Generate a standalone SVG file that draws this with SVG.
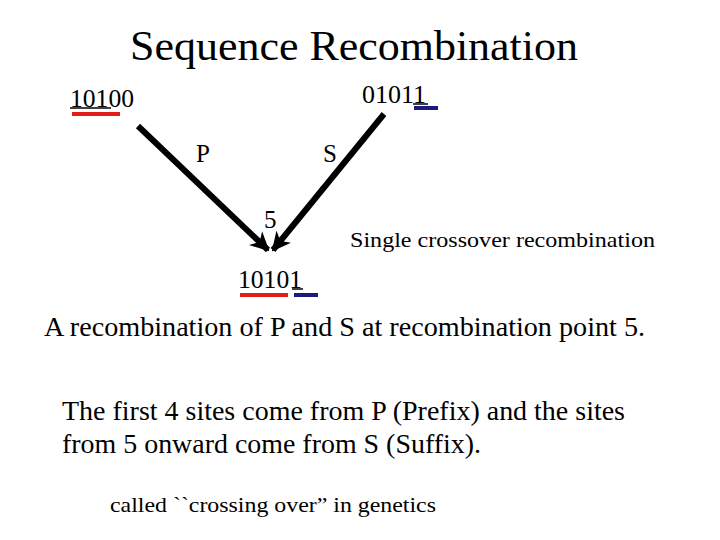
<svg xmlns="http://www.w3.org/2000/svg" width="720" height="540" viewBox="0 0 720 540">
<defs>
<style>
text{font-family:"Liberation Serif","Times New Roman",serif;fill:#000}
.conn{stroke:#000;stroke-width:6;fill:none}
.red{fill:#e21b1b}
.blue{fill:#1a1a80}
.ul{stroke:#000;stroke-width:1.5}
</style>
<marker id="ah" viewBox="0 0 10 10" refX="9" refY="5" markerWidth="3.2" markerHeight="3.2" orient="auto" markerUnits="strokeWidth">
<path d="M0,0 L10,5 L0,10 L3,5 Z" fill="#000"/>
</marker>
</defs>
<rect width="720" height="540" fill="#fff"/>
<text x="354" y="60" font-size="42" text-anchor="middle" textLength="448" lengthAdjust="spacingAndGlyphs">Sequence Recombination</text>
<g id="parentP">
<text x="70" y="107" font-size="25" textLength="64" lengthAdjust="spacingAndGlyphs">10100</text>
<line class="ul" x1="70" y1="108" x2="111" y2="108"/>
<rect class="red" x="72" y="112" width="48" height="4"/>
</g>
<g id="parentS">
<text x="362" y="103" font-size="25" textLength="64" lengthAdjust="spacingAndGlyphs">01011</text>
<line class="ul" x1="413" y1="104" x2="428" y2="104"/>
<rect class="blue" x="414" y="106" width="24" height="4"/>
</g>
<g id="child">
<text x="238" y="288" font-size="25" textLength="64" lengthAdjust="spacingAndGlyphs">10101</text>
<line class="ul" x1="292" y1="289" x2="303" y2="289"/>
<rect class="red" x="240" y="293" width="48" height="4"/>
<rect class="blue" x="294" y="293" width="24" height="4"/>
</g>
<g id="connectors">
<line class="conn" x1="138" y1="126" x2="268" y2="250" marker-end="url(#ah)"/>
<line class="conn" x1="384" y1="114" x2="273" y2="250" marker-end="url(#ah)"/>
</g>
<g id="labels">
<text x="196" y="162" font-size="25">P</text>
<text x="323" y="162" font-size="25">S</text>
<text x="264" y="228" font-size="25">5</text>
<text x="350" y="247" font-size="21" textLength="305" lengthAdjust="spacingAndGlyphs">Single crossover recombination</text>
</g>
<text x="44" y="336" font-size="28" textLength="601" lengthAdjust="spacingAndGlyphs">A recombination of P and S at recombination point 5.</text>
<text x="62" y="420" font-size="27" textLength="563" lengthAdjust="spacingAndGlyphs">The first 4 sites come from P (Prefix) and the sites</text>
<text x="62" y="453" font-size="27" textLength="419" lengthAdjust="spacingAndGlyphs">from 5 onward come from S (Suffix).</text>
<text x="110" y="512" font-size="21" textLength="326" lengthAdjust="spacingAndGlyphs">called ``crossing over” in genetics</text>
</svg>
